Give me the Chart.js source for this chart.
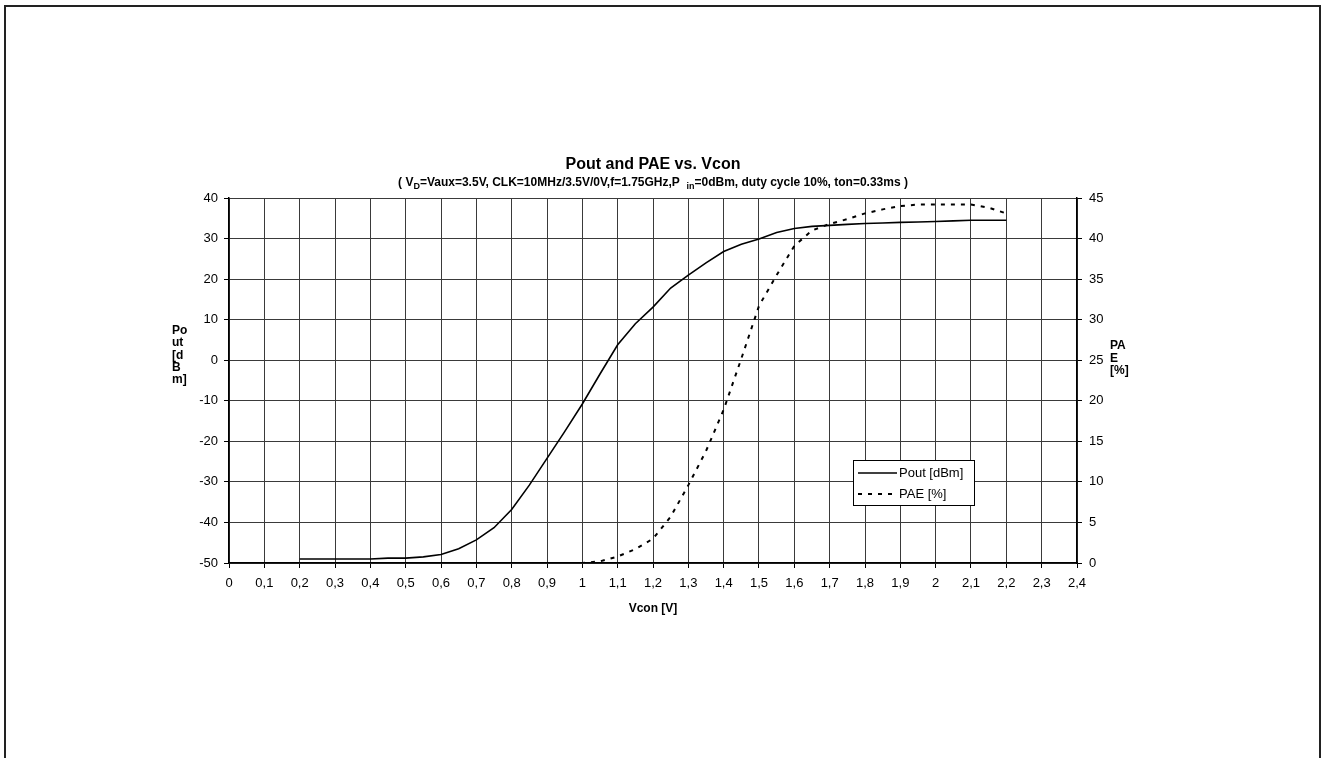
<!DOCTYPE html>
<html>
<head>
<meta charset="utf-8">
<script src="https://cdn.jsdelivr.net/npm/chart.js@4.4.1/dist/chart.umd.min.js"></script>
<style>
  html, body { margin: 0; padding: 0; background: #fff; }
  #chart { display: block; }
</style>
</head>
<body>
<canvas id="chart" width="1322" height="758"></canvas>
<script>
// Vcon steps [V]
const vcon = [0.2, 0.25, 0.3, 0.35, 0.4, 0.45, 0.5, 0.55, 0.6, 0.65, 0.7, 0.75, 0.8, 0.85, 0.9, 0.95,
  1.0, 1.05, 1.1, 1.15, 1.2, 1.25, 1.3, 1.35, 1.4, 1.45, 1.5, 1.55, 1.6, 1.65, 1.7, 1.75, 1.8, 1.85,
  1.9, 1.95, 2.0, 2.05, 2.1, 2.15, 2.2];
// Pout [dBm]
const pout = [-49, -49, -49, -49, -49, -48.8, -48.8, -48.5, -47.9, -46.5, -44.3, -41.3, -36.8, -30.8,
  -24.2, -17.6, -10.8, -3.4, 3.8, 9.0, 13.1, 17.8, 21, 24, 26.8, 28.6, 29.9, 31.5, 32.5, 33, 33.25,
  33.5, 33.7, 33.85, 34, 34.1, 34.2, 34.35, 34.5, 34.5, 34.5];
// PAE [%] (no measurement below 0.6 V)
const pae = [null, null, null, null, null, null, null, null, 0, 0, 0, 0, 0, 0, 0, 0,
  0, 0.2, 0.8, 1.7, 3.0, 5.7, 9.6, 13.8, 18.9, 25.2, 31.7, 35.5, 39.1, 41, 41.8, 42.4, 43.1, 43.6,
  44, 44.2, 44.2, 44.2, 44.2, 43.8, 43.1];

const titleText = 'Pout and PAE vs. Vcon';
const subtitleParts = [
  ['( V', false], ['D', true], ['=Vaux=3.5V, CLK=10MHz/3.5V/0V,f=1.75GHz,P  ', false],
  ['in', true], ['=0dBm, duty cycle 10%, ton=0.33ms )', false]
];
const xTitle = 'Vcon [V]';
const yTitleLines = ['Po', 'ut', '[d', 'B', 'm]'];
const y1TitleLines = ['PA', 'E', '[%]'];

const FONT = '"Liberation Sans", Arial, sans-serif';

const decor = {
  id: 'decor',
  beforeDraw(chart) {
    const ctx = chart.ctx;
    ctx.save();
    ctx.fillStyle = '#fff';
    ctx.fillRect(0, 0, chart.width, chart.height);
    ctx.strokeStyle = '#222';
    ctx.lineWidth = 2;
    ctx.strokeRect(5, 6, 1315, 800);
    ctx.restore();
  },
  afterDraw(chart) {
    const ctx = chart.ctx;
    const a = chart.chartArea;
    const cx = (a.left + a.right) / 2;
    ctx.save();
    ctx.fillStyle = '#000';

    // title
    ctx.font = 'bold 16px ' + FONT;
    ctx.textAlign = 'center';
    ctx.textBaseline = 'alphabetic';
    ctx.fillText(titleText, cx, 169);

    // subtitle with subscripts
    const big = 'bold 12px ' + FONT, small = 'bold 9px ' + FONT;
    let total = 0;
    subtitleParts.forEach(p => { ctx.font = p[1] ? small : big; total += ctx.measureText(p[0]).width; });
    let x = cx - total / 2;
    ctx.textAlign = 'left';
    subtitleParts.forEach(p => {
      ctx.font = p[1] ? small : big;
      ctx.fillText(p[0], x, p[1] ? 189 : 186);
      x += ctx.measureText(p[0]).width;
    });

    // axis titles
    ctx.font = 'bold 12px ' + FONT;
    ctx.textAlign = 'center';
    ctx.fillText(xTitle, cx, 612);
    ctx.textAlign = 'left';
    yTitleLines.forEach((t, i) => ctx.fillText(t, 172, 334 + i * 12.3));
    y1TitleLines.forEach((t, i) => ctx.fillText(t, 1110, 349 + i * 12.5));

    // legend box
    const lx = 853, ly = 460, lw = 121, lh = 45;
    ctx.fillStyle = '#fff';
    ctx.fillRect(lx, ly, lw, lh);
    ctx.strokeStyle = '#000';
    ctx.lineWidth = 1;
    ctx.strokeRect(lx + 0.5, ly + 0.5, lw, lh);
    ctx.font = '13px ' + FONT;
    ctx.textBaseline = 'middle';
    chart.data.datasets.forEach((ds, i) => {
      const yy = ly + 13 + i * 21;
      ctx.beginPath();
      ctx.setLineDash(ds.borderDash || []);
      ctx.lineWidth = ds.borderWidth;
      ctx.strokeStyle = ds.borderColor;
      ctx.moveTo(858, yy);
      ctx.lineTo(897, yy);
      ctx.stroke();
      ctx.setLineDash([]);
      ctx.fillStyle = '#000';
      ctx.fillText(ds.label, 899, yy);
    });
    ctx.restore();
  }
};

function fmtV(v) {
  return String(Math.round(v * 10) / 10).replace('.', ',');
}

const tickFont = { family: FONT, size: 13 };

new Chart(document.getElementById('chart'), {
  type: 'line',
  data: {
    datasets: [{
      label: 'Pout [dBm]',
      data: vcon.map((v, i) => ({ x: v, y: pout[i] })),
      yAxisID: 'y',
      borderColor: '#000',
      borderWidth: 1.6,
      pointRadius: 0,
      tension: 0,
      fill: false
    }, {
      label: 'PAE [%]',
      data: vcon.map((v, i) => ({ x: v, y: pae[i] })),
      yAxisID: 'y1',
      borderColor: '#000',
      borderWidth: 2,
      borderDash: [4, 6],
      pointRadius: 0,
      tension: 0,
      fill: false
    }]
  },
  options: {
    responsive: false,
    animation: false,
    devicePixelRatio: 1,
    layout: { padding: { top: 198, left: 0, right: 0, bottom: 0 } },
    plugins: {
      legend: { display: false },
      title: { display: false },
      tooltip: { enabled: false }
    },
    scales: {
      x: {
        type: 'linear',
        min: 0,
        max: 2.4,
        afterFit(scale) { scale.height = 195; },
        ticks: { stepSize: 0.1, color: '#000', font: tickFont, padding: 8, maxRotation: 0, autoSkip: false,
          callback: v => fmtV(v) },
        grid: { color: '#3a3a3a', lineWidth: 1, tickLength: 5, tickColor: '#000' },
        border: { color: '#000', width: 1.5 }
      },
      y: {
        position: 'left',
        min: -50,
        max: 40,
        afterFit(scale) { scale.width = 229; },
        ticks: { stepSize: 10, color: '#000', font: tickFont, padding: 6 },
        grid: { color: '#3a3a3a', lineWidth: 1, tickLength: 5, tickColor: '#000' },
        border: { color: '#000', width: 1.5 }
      },
      y1: {
        position: 'right',
        min: 0,
        max: 45,
        afterFit(scale) { scale.width = 245; },
        ticks: { stepSize: 5, color: '#000', font: tickFont, padding: 7 },
        grid: { drawOnChartArea: false, tickLength: 5, tickColor: '#000' },
        border: { color: '#000', width: 1.5 }
      }
    }
  },
  plugins: [decor]
});
</script>
</body>
</html>
